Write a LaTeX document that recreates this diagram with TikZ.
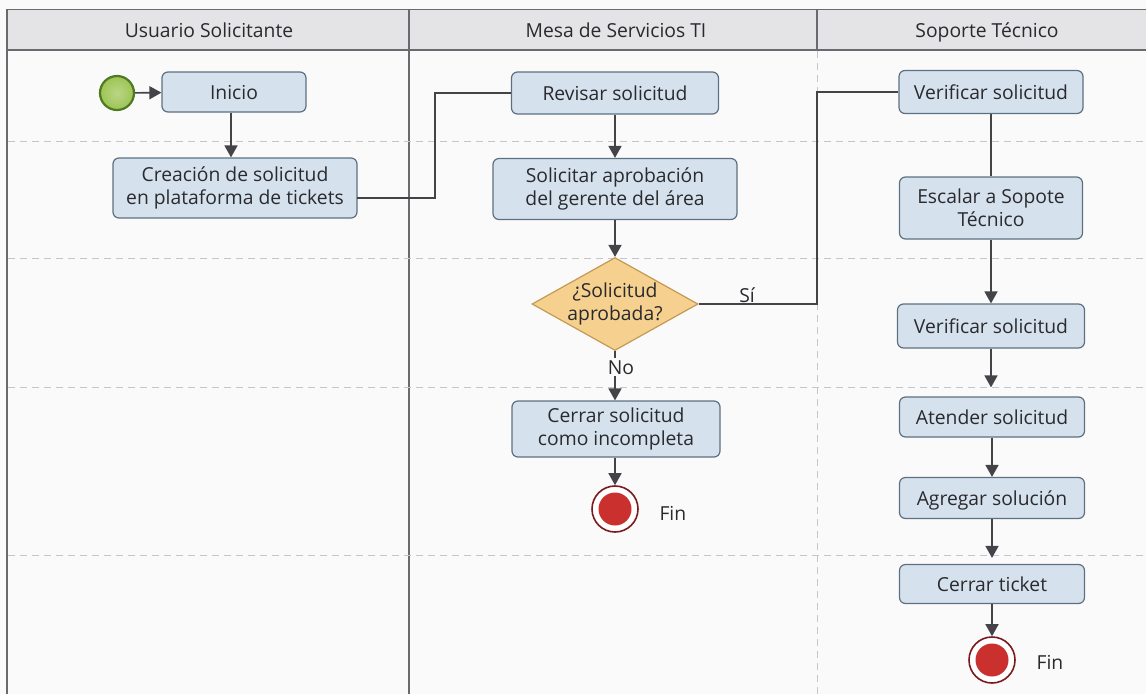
\documentclass[tikz,border=0pt]{standalone}
\usepackage{fontspec}
\setmainfont{Open Sans}
\usetikzlibrary{arrows.meta,shapes.geometric,positioning,calc}

\definecolor{bgpaper}{HTML}{FAFAFB}
\definecolor{headfill}{HTML}{E4E3E6}
\definecolor{frameline}{HTML}{6A6A6E}
\definecolor{gridline}{HTML}{C6C6CA}
\definecolor{boxfill}{HTML}{D5E2EE}
\definecolor{boxline}{HTML}{5E7080}
\definecolor{flowline}{HTML}{444448}
\definecolor{txt}{HTML}{2A2A2E}
\definecolor{decfill}{HTML}{F5D08E}
\definecolor{decline}{HTML}{C49A52}
\definecolor{startfill}{HTML}{9DC453}
\definecolor{startline}{HTML}{4D7A22}
\definecolor{endfill}{HTML}{C9302E}
\definecolor{endline}{HTML}{7A1A1C}

\tikzset{
  txtfont/.style={font=\fontsize{19.3}{23}\selectfont, text=txt},
  oneline/.style={text height=14pt, text depth=0pt},
  task/.style={txtfont, rectangle, rounded corners=6pt, draw=boxline, fill=boxfill,
    line width=1.2pt, align=center, inner sep=0pt},
  decision/.style={txtfont, diamond, draw=decline, fill=decfill, line width=1.2pt,
    align=center, inner sep=-8pt, minimum width=166pt, minimum height=93pt, aspect=1.78},
  flow/.style={draw=flowline, line width=1.6pt},
  flowarrow/.style={flow, -{Triangle[width=13pt,length=12pt]}},
  lanehead/.style={txtfont, oneline, anchor=center},
  grid/.style={draw=gridline, line width=1pt, dash pattern=on 7pt off 5pt},
}

\begin{document}
\begin{tikzpicture}[x=1pt,y=-1pt]
\useasboundingbox (0,0) rectangle (1146,694);
\fill[bgpaper] (0,0) rectangle (1146,694);

% lane headers
\fill[headfill] (7,9.5) rectangle (1146,50);
\draw[frameline, line width=1.2pt] (1146,9.5) -- (7,9.5) -- (7,694);
\draw[frameline, line width=1.2pt] (7,50) -- (1146,50);
\draw[frameline, line width=1.4pt] (409,9.5) -- (409,694);
\draw[frameline, line width=1.2pt] (817,9.5) -- (817,50);
\node[lanehead] (h1) at (209,30) {Usuario Solicitante};
\node[lanehead] (h2) at (616,30) {Mesa de Servicios TI};
\node[lanehead] (h3) at (987,30) {Soporte Técnico};

% row separators
\foreach \yy in {141,258,387,555} {\path[grid] (8,\yy) -- (1146,\yy);}
\path[grid] (817,51) -- (817,694);

% Usuario Solicitante
\node[circle, draw=startline, line width=2.2pt, minimum size=34pt, inner sep=0pt,
      inner color=startfill!70!white, outer color=startfill] (start) at (117,93) {};
\node[task, oneline, minimum width=144pt, minimum height=40pt] (inicio) at (234,92) {Inicio};
\node[task, minimum width=244pt, minimum height=60pt] (crea) at (235,188)
  {Creación de solicitud\\en plataforma de tickets};

% Mesa de Servicios TI
\node[task, oneline, minimum width=207pt, minimum height=42pt] (revisar) at (615,93) {Revisar solicitud};
\node[task, minimum width=244pt, minimum height=61pt] (aprob) at (615,189)
  {Solicitar aprobación\\del gerente del área};
\node[decision] (dec) at (615,304) {¿Solicitud\\aprobada?};
\node[task, minimum width=208pt, minimum height=56pt] (cerrarinc) at (616,429)
  {Cerrar solicitud\\como incompleta};
\node[circle, draw=endline, fill=white, line width=1.6pt, minimum size=46pt, inner sep=0pt] (fin1) at (615,509) {};
\fill[endfill] (fin1.center) circle (16.5pt);
\node[txtfont, oneline, anchor=west] (fin1t) at (656,513) {Fin};

% Soporte Técnico
\node[task, oneline, minimum width=184pt, minimum height=43pt] (verif1) at (991,92) {Verificar solicitud};
\node[task, minimum width=183pt, minimum height=62pt] (escalar) at (991,208)
  {Escalar a Sopote\\Técnico};
\node[task, oneline, minimum width=187pt, minimum height=44pt] (verif2) at (991,326) {Verificar solicitud};
\node[task, oneline, minimum width=185pt, minimum height=40pt] (atender) at (992,417) {Atender solicitud};
\node[task, oneline, minimum width=185pt, minimum height=41pt] (agregar) at (992,498) {Agregar solución};
\node[task, oneline, minimum width=185pt, minimum height=39pt] (cerrart) at (992,584) {Cerrar ticket};
\node[circle, draw=endline, fill=white, line width=1.6pt, minimum size=46pt, inner sep=0pt] (fin2) at (992,660) {};
\fill[endfill] (fin2.center) circle (16.5pt);
\node[txtfont, oneline, anchor=west] (fin2t) at (1033,662) {Fin};

% sequence flows
\draw[flowarrow] (start) -- (inicio);
\draw[flowarrow] ([xshift=-3pt]inicio.south) -- ([xshift=-3pt]inicio.south |- crea.north);
\coordinate (c1a) at (357,198);
\coordinate (c1b) at (435,198);
\draw[flow] (c1a) -- (c1b) |- (revisar.west);

\draw[flowarrow] (revisar.south) -- (revisar.south |- aprob.north);
\draw[flowarrow] (aprob.south) -- (aprob.south |- dec.north);
\draw[flowarrow] (dec.south) -- (dec.south |- cerrarinc.north);
\draw[flowarrow] (cerrarinc.south -| fin1) -- (fin1);
\node[txtfont, oneline, fill=bgpaper, inner sep=2pt] (nolbl) at (621,367) {No};

\coordinate (sibend) at (817,304);
\draw[flow] (dec.east) -- (sibend) |- (verif1.west);
\node[txtfont, oneline] (silbl) at (747,295) {Sí};

\draw[flow] (verif1.south) -- (verif1.south |- escalar.north);
\draw[flowarrow] (escalar.south) -- (escalar.south |- verif2.north);
\draw[flowarrow, shorten >=9pt] (verif2.south) -- (verif2.south |- atender.north);
\draw[flowarrow] (atender.south) -- (atender.south |- agregar.north);
\draw[flowarrow, shorten >=6pt] (agregar.south) -- (agregar.south |- cerrart.north);
\draw[flowarrow] (cerrart.south) -- (fin2);
\end{tikzpicture}
\end{document}
